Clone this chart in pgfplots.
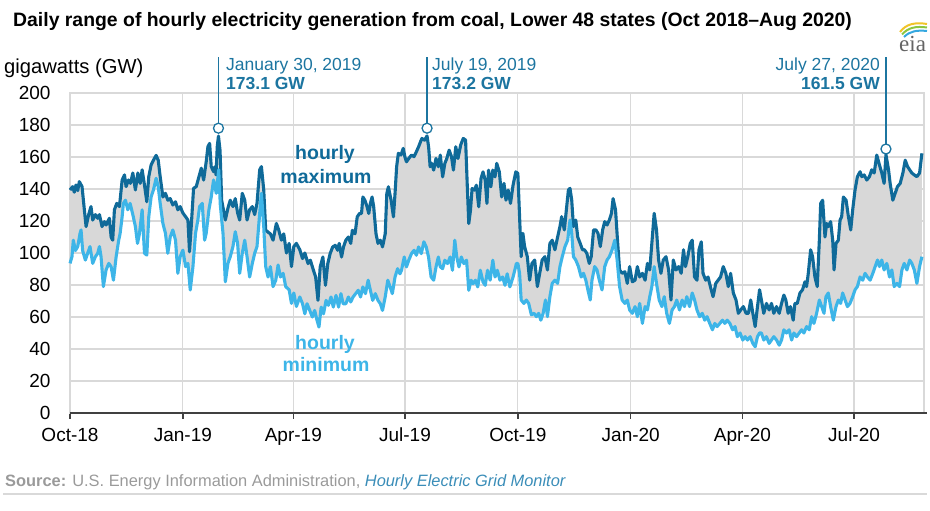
\documentclass[border=0pt]{standalone}
\usepackage{fontspec}
\setmainfont{Liberation Sans}
\setromanfont{Liberation Sans}
\newfontfamily\serifeia{Liberation Serif}
\usepackage{pgfplots}
\pgfplotsset{compat=1.18}
\usepgfplotslibrary{fillbetween}
\definecolor{maxc}{HTML}{0F6A99}
\definecolor{minc}{HTML}{3DB5E8}
\definecolor{annc}{HTML}{1C75A0}
\definecolor{gridc}{HTML}{D9D9D9}
\definecolor{fillc}{HTML}{D8D8D8}
\definecolor{axc}{HTML}{404040}
\definecolor{srcc}{HTML}{9A9A9A}
\definecolor{linkc}{HTML}{3A8DB8}

\pgfplotstableread{
x y
0 139.4
2.2 141.5
3.5 138
4.9 142.5
6.3 139
7.6 144.6
9.8 141.5
11.7 127
13.1 116.5
15.2 124
17.1 129
18.5 120.6
20.7 124
22.6 121.7
24 124
26.1 116.5
28 119.6
29.4 117.5
32.1 121.7
33.5 110
34.8 108
36.2 127
38.1 131
40.3 129
42.5 145.6
44.4 148.8
45.7 141.5
47.6 145.6
49.3 143.5
51.2 150
53.3 139.4
55.3 150
57.2 143.5
58.8 152
60.7 142.5
62.6 132
64.2 147.7
66.1 155
68 158
70.2 161
71.9 158
73.5 147.7
75.7 135
77.8 137.3
79.7 133
81.7 134
83.8 130
86 132
87.9 127
89.8 129
92 125
94.2 122.7
96.1 120.6
97.4 100.8
98.8 116.5
100.7 140.4
102.9 141.5
105.1 147.7
107 153
108.9 145.6
111 157
112.4 166.5
113.8 168.5
115.1 154
117 150.8
118.2 154
119 148.8
120 166.5
121 173.1
122.3 164
123.6 133
126.6 120.6
128.7 128
130.6 133
132.8 129
134.7 134
136.6 125
138.3 120.6
140.4 137.3
142.4 133
144.3 120.6
146.4 127
148.6 129
150.5 124
152.4 131
154.6 152
156 154
157.9 139.4
159.5 114.4
161.4 113
163.3 112
165.5 108
168.2 118.5
170.1 114.4
172.3 108
174.2 112
176.4 100
178.6 106
180.5 91.5
182.4 104
184.5 106
187.3 102
189.5 96.5
191.4 100
194 93.4
195.9 95.5
198 90.2
200.2 85
202.1 70.4
203.9 91.3
206.1 97.5
208.2 79.8
210.1 93.4
212 99.6
214.1 103.8
216.2 104.8
218.1 101.7
219.4 106
221.3 97.5
222.9 103.8
224.8 108
226.9 110
228.8 106
230.1 114.2
232.3 112
234.1 122.6
236 124.7
237.6 124.7
238.7 135
240.3 133
242.1 128.9
243.5 124.7
244.8 131
246.2 135
247.5 128.9
249.4 112
251 106
252.9 108
254.7 103.8
256.9 112
258.2 137.2
259.5 141.4
261.7 133
263.6 122.6
264.9 137.2
266.2 153.9
267.6 162.3
269.7 161.2
271.6 165.4
272.9 160.2
274.2 157
276.1 159.1
278.3 161.2
280.4 160.2
282.3 163.3
284.1 166.4
285.7 169.6
286.8 171.6
289 170.5
291 173.2
292.3 166
293.5 153.9
294.8 156
296.4 151.8
298.3 159.1
300.2 153.9
301.8 161.2
303.7 147.6
305.5 156
307.1 159.1
309 164.3
310.9 160.2
312.5 151.8
314.4 166.4
316.2 159.1
318.4 167.5
320.5 171.6
322.4 170.6
323.7 143.5
325 118.4
326.4 126.8
327.7 140.3
329.6 139.3
331.2 142.4
333.1 128.9
335 146.6
336.6 150.7
338.4 145.5
339.8 131
341.1 151.8
343 141.4
344.6 151.8
346.4 147.6
347.8 156
349.9 150.7
351.8 135
353.7 143.5
355.3 133
357.1 139.3
359 131
361.1 142.4
363.3 150.7
365 149.8
366.4 122.7
367.7 97.7
369.1 112.3
370.5 104
372.7 97.7
374.6 83
376.5 93.5
378.7 95.6
380.9 79
382.8 87.3
384.8 95.6
387 97.7
389.1 89.4
391.1 106
393 108
395.2 102
397.4 110
399.3 116.5
400.7 122.7
402.9 114.4
404.8 129
406.2 139.4
407.5 140.4
408.9 133
410.3 116.5
412.2 120.6
413.8 110
415.8 106
417.7 102
419.3 102
421.2 99.8
423.2 93.5
424.8 97.7
426.7 114.4
428.6 114.4
430.3 112.3
432.2 104
434.1 114.4
435.8 119.6
437.7 117.5
439.6 120.6
441.3 124.8
442.6 134
444.6 127
446.2 108
447.9 89.4
450 87.3
452.2 88.3
454.2 81
456.1 91.5
458.3 82
460.5 83
462.4 91.5
464.3 85
466.5 87.3
468.7 83
470.6 93.5
472.5 89.4
474.2 106
476.1 124.8
478 114.4
479.7 95.6
481.6 87.3
483.5 95.6
485.7 97.7
487.9 89.4
489.8 70.6
491.7 95.6
493.9 89.4
496.1 91.5
498.1 87.3
500 102
501.6 91.5
503.5 97.7
505.5 106
507.1 108
509 85
511 83
512.6 102
514.5 107
515.9 87.3
518.1 83
520 85
521.9 79
524.1 72.7
526.3 81
528.2 83
530.2 85
532.4 91.5
534.5 87.3
536.5 79
538.4 87.3
540.6 75
542.8 70.6
544.7 62.3
546.6 64.4
548.8 66.5
551 62.3
552.9 62.3
554.8 70.6
556.5 62.3
558.4 54
560.3 66.5
562 77
563.5 70.6
565.4 62.3
567.6 68.5
569.8 64.4
571.7 68.5
573.6 62.3
575.8 66.5
578 62.3
579.9 68.5
581.8 73.7
583.4 70.6
585.3 62.3
587.2 66.5
589.4 58
590.8 68.5
592.7 68.5
594.9 75
597 77
599 82
600.3 79
601.7 87.3
603.6 102
605.2 97.7
607.1 85
609 79
610.7 108
611.8 131
613.4 133
615.3 110
616.7 118.5
618 116.5
619.9 119.6
621.6 108
622.7 89.4
624.3 106
626.2 108
627.6 120.6
628.9 122.7
630.3 135
632.5 133
634.4 122.7
636.3 114.4
637.9 127
639.8 139.4
641.7 147.7
643.9 150.8
645.3 147.7
647.2 148.8
649.4 145.6
651.5 147.7
653.4 152
655.4 150
657.5 161.2
659.7 155
661.6 150
663.5 143.5
665 161.5
667.1 152
668.4 143.5
670.6 133
672.5 137.3
674.4 141.5
676.6 143.5
678.8 150
680.7 158
682.6 154
684.3 152
686.1 150
688.1 148.8
690.2 147.7
692.4 150
694.3 162.3
}\maxtable

\pgfplotstableread{
x y
0 93.5
1.6 97.7
2.7 108
4.4 101.5
6.3 104
8.2 112.3
9 114.4
10.3 101.5
12.5 95.6
14.4 99.8
16.3 104
18.5 93.5
20.7 97.7
22.6 99.8
24 104
25.3 97.7
27.2 79
29.4 89.4
31.6 93.5
33.5 91.5
35.4 83
37.6 97.7
39.7 108
40.8 112
42.5 122.7
43.5 131
45.2 133
47.1 127
49 131
51.2 124
53.3 116.5
55 106
56.6 112
58.8 127
60.7 99.8
62.6 98.7
64.2 122.7
66.1 135
68 139.4
70.2 146.7
71.9 141.5
73.5 131
75.7 118.5
77.8 112.3
79.7 99.8
81.7 110
83.8 114.4
86 108
87.9 87.3
89.8 97.7
92 101.8
94.2 91.5
96.1 93.5
98 76.9
100.2 91.5
102.3 112.3
104.2 120.6
105.6 129
107.8 131
109.7 108
111 112.3
113.2 127
115.1 135
117 145.6
119.2 137.3
121.2 152
122.5 130
124.7 112.3
126.6 82
128.7 93.5
130.6 97.7
132.8 104
134.7 113.3
136.6 106
138.3 87.3
140.4 99.8
142.4 108
144.3 97.7
146.4 85
148.6 93.5
150.5 99.8
152.4 104
154.6 124.8
156 137.3
157.9 116.5
159.5 91.5
161.4 85
163.3 91.5
165.5 79
167.7 83
169.6 92.5
171.5 85
173.7 87.3
175.8 79
178.6 77
180.5 68.5
182.4 75
184.5 66.6
187.3 72.5
189.5 68.3
191.4 62
193.2 68.3
195.4 64.1
197.5 60
199.4 64.1
201.3 58
202.9 53.7
204.7 66.2
206.6 62
208.7 70.4
210.6 67.3
212.7 72.5
214.6 66.2
216.8 73.5
218.9 66.2
220.8 74.6
222.6 68.3
224.8 68.3
226.9 72.5
228.8 69.4
230.7 72.5
232.8 74.6
234.9 76.7
236.8 72.5
238.7 78.8
240.8 74.6
243 83
244.8 76.7
246.7 70.4
248.8 74.6
251 70.4
252.9 68.3
254.7 64.1
256.9 72.5
259 83
260.9 78.8
262.7 74.6
264.9 85
267 90.2
268.9 87
270.2 89.2
272.4 97.5
274.2 91.3
276.1 95.5
278.3 99.6
280.4 101.7
282.3 98.6
284.1 103.8
286.3 99.6
288.4 107
290.3 103.8
292.2 97.5
294.3 85
296.4 83
298.3 91.3
300.2 97.5
301.8 91.3
303.7 90.2
305.5 95.5
307.7 93.4
309.8 97.5
311.7 89.2
313.6 108
315.2 97.5
317 91.3
318.9 97.5
321 93.4
323.2 95.5
325 76.7
326.9 83
328.5 80.8
330.4 83
332.3 78.8
334.4 89.2
336.6 81.9
338.4 79.8
340.3 89.2
342.4 83
344.6 95.5
346.4 85
348.3 89.2
350.4 83
352.6 85
354.5 79.8
356.3 87
358.5 78.8
361.1 85
363.8 93.4
365 93.5
366.4 87.3
367.7 70.6
369.9 68.5
371.9 70.6
373.8 68.5
376 61.4
378.2 62.3
380.1 60.2
382 62.3
383.7 58
385.6 62.3
387.5 70.6
389.1 60.2
391.1 72.7
393 81
395.2 83
397.4 81
399.3 91.5
401.2 97.7
403.4 104
405.6 108
407.5 120.6
408.9 112.3
410.3 97.7
412.2 95.6
414.4 91.5
416.6 85
418.5 87.3
420.4 83
422.1 76.9
424 70.6
425.4 83
427.6 91.5
429.5 89.4
431.4 83
433.6 76.9
435.8 91.5
437.7 95.6
439.6 97.7
441.8 102
444 108
445.9 95.6
447.9 79
450 70.6
452.2 68.5
454.2 70.6
456.1 64.4
458.3 62.3
460.5 66.5
462.4 60.2
464.3 68.5
466.5 56
468.7 66.5
470.6 64.4
472.5 72.7
474.2 79
476.1 91.5
478 81
480.2 70.6
482.4 66.5
484.3 72.7
486.3 62.3
488.5 56
490.7 64.4
492.6 66.5
494.5 70.6
496.7 64.4
498.9 70.6
500.8 66.5
502.7 72.7
504.9 66.5
507.1 75
509 70.6
511 64.4
513.1 60.2
515.3 62.3
517.3 58
519.2 60.2
521.4 56
523.6 52
525.5 56
527.4 54
529.6 56
531.8 58
533.7 56
535.6 58
537.8 56
540 52
542 54
543.9 47.7
546.1 50
548.3 45.6
550.2 47.7
552.1 45.6
554.3 47.7
556.5 43.5
558.4 41.4
560.3 47.7
562 50
563.5 50
565.4 45.6
567.6 47.7
569.8 43.5
571.7 45.6
573.6 47.7
575.8 45.6
578 42.4
579.9 45.6
581.8 52
584 50
586.1 52
588.1 45.6
590 50
592.1 47.7
594.3 50
596.2 52
598.1 50
600.3 54
602.5 52
604.4 60.2
606.3 56
608.5 62.3
610.7 70.6
612.6 66.5
614.5 62.3
616.1 72.7
618 75
619.9 66.5
622.1 58
624.3 66.5
626.2 70.6
628.1 68.5
629.7 75
631.7 70.6
633.6 66.5
635.7 68.5
637.9 72.7
639.8 77
641.7 79
643.9 85
646.1 83
648 87.3
649.9 85
652.1 83
654.3 87.3
656.2 91.5
658.1 95.6
659.7 91.5
661.6 95.6
663.5 89.4
665.7 93.5
667.9 85
669.8 89.4
671.7 79
673.9 81
676.1 79
678 89.4
679.9 93.5
682.1 89.4
684.3 95.6
686.1 93.5
688.1 89.4
690.2 81
692.4 91.5
694.3 97.7
}\mintable

\begin{document}
\begin{tikzpicture}[x=1pt,y=1pt]
\path (0,0) rectangle (930,511);
\begin{axis}[
  at={(70pt,98pt)}, anchor=south west,
  scale only axis, width=854pt, height=320pt,
  xmin=0, xmax=696, ymin=0, ymax=200,
  xtick={0,92,182,273,365,457,548,639},
  xticklabels={Oct-18,Jan-19,Apr-19,Jul-19,Oct-19,Jan-20,Apr-20,Jul-20},
  ytick={0,20,...,200},
  grid=major,
  major grid style={gridc, line width=1.2pt},
  axis line style={gridc, line width=1.2pt},
  tick align=outside,
  tick pos=left,
  major tick length=6pt,
  xtick style={axc, line width=1.3pt},
  ytick style={draw=none},
  tick label style={font=\fontsize{19}{22}\selectfont, text=black},
  /pgf/number format/assume math mode=true,
  yticklabel style={xshift=-10pt},
  xticklabel style={yshift=-5.5pt},
  clip=false,
]
\addplot[maxc, line width=3.1pt, line join=round, name path=max] table {\maxtable};
\addplot[minc, line width=3.1pt, line join=round, name path=min] table {\mintable};
\addplot[fill=fillc, draw=none] fill between[of=max and min];
\draw[axc, line width=2.2pt] (axis cs:0,0) -- (axis cs:698.5,0);
% annotation leader lines and markers
\addplot[annc, line width=1.3pt] coordinates {(121,181.4) (121,222.5)};
\addplot[annc, line width=1.3pt] coordinates {(291,181.4) (291,222.5)};
\addplot[annc, line width=1.3pt] coordinates {(665,168.4) (665,222.5)};
\addplot[only marks, mark=*, mark size=5pt, mark options={fill=white, draw=annc, line width=1.3pt}] coordinates {(121,178) (291,178) (665,165)};
\end{axis}

% title
\node[anchor=base west, inner sep=0, font=\fontsize{19.4}{23}\selectfont\bfseries] at (13,484)
  {Daily range of hourly electricity generation from coal, Lower 48 states (Oct 2018--Aug 2020)};
% y unit
\node[anchor=base west, inner sep=0, font=\fontsize{20.2}{23}\selectfont] at (4,437) {gigawatts (GW)};
% annotations
\node[anchor=base west, inner sep=0, annc, font=\fontsize{17.5}{20}\selectfont] at (226,440) {January 30, 2019};
\node[anchor=base west, inner sep=0, annc, font=\fontsize{17.5}{20}\selectfont\bfseries] at (226,421) {173.1 GW};
\node[anchor=base west, inner sep=0, annc, font=\fontsize{17.5}{20}\selectfont] at (432,440) {July 19, 2019};
\node[anchor=base west, inner sep=0, annc, font=\fontsize{17.5}{20}\selectfont\bfseries] at (432,421) {173.2 GW};
\node[anchor=base east, inner sep=0, annc, font=\fontsize{17.5}{20}\selectfont] at (880,440) {July 27, 2020};
\node[anchor=base east, inner sep=0, annc, font=\fontsize{17.5}{20}\selectfont\bfseries] at (880,421) {161.5 GW};
% series labels
\node[anchor=base, inner sep=0, maxc, font=\fontsize{19.5}{22}\selectfont\bfseries] at (325,351) {hourly};
\node[anchor=base, inner sep=0, maxc, font=\fontsize{19.5}{22}\selectfont\bfseries] at (326,327) {maximum};
\node[anchor=base, inner sep=0, minc, font=\fontsize{19.5}{22}\selectfont\bfseries] at (325,161) {hourly};
\node[anchor=base, inner sep=0, minc, font=\fontsize{19.5}{22}\selectfont\bfseries] at (326,139) {minimum};
% eia logo
\draw[line width=2pt, color={rgb,255:red,240;green,196;blue,40}] (900,479) .. controls (906,487) and (915,489) .. (927,487);
\draw[line width=2pt, color={rgb,255:red,140;green,198;blue,63}] (902,476.5) .. controls (908,483.5) and (916,485) .. (927,483.5);
\draw[line width=2pt, color={rgb,255:red,53;green,168;blue,224}] (904,474) .. controls (910,480) and (917,481) .. (927,480);
\node[anchor=base west, inner sep=0, font=\serifeia\fontsize{23}{25}\selectfont, color={rgb,255:red,100;green,100;blue,100}] at (899,459) {eia};
% source
\node[anchor=base west, inner sep=0, srcc, font=\fontsize{16.4}{19}\selectfont] at (5,24)
  {\textbf{Source:} U.S. Energy Information Administration, {\itshape\color{linkc}Hourly Electric Grid Monitor}};
\draw[gridc, line width=2.5pt] (3,17) -- (927,17);
\end{tikzpicture}
\end{document}
